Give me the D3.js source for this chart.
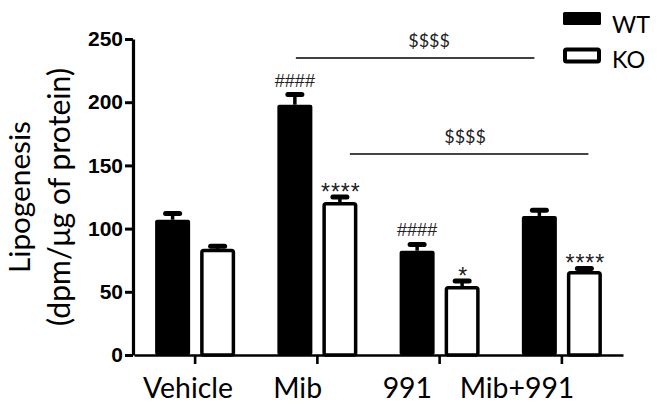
<!DOCTYPE html>
<html><head><meta charset="utf-8">
<script src="https://cdn.jsdelivr.net/npm/d3@7"></script>
<style>body{margin:0;background:#fff} svg{display:block}</style>
</head><body><svg id="c" width="657" height="405"></svg>
<script>
const categories = ["Vehicle", "Mib", "991", "Mib+991"];
const series = ["WT", "KO"];
const wtValues = [107, 198, 82.5, 110];
const wtErrors = [5, 8, 5, 4.5];
const koValues = [84, 121, 54.5, 66.5];
const koErrors = [2, 4, 4, 2];
const wtMarks = ["", "####", "####", ""];
const koMarks = ["", "****", "*", "****"];
const yTicks = [0, 50, 100, 150, 200, 250];
const bracketSeries = ["WT", "KO"];
const bracketFrom = ["Mib", "Mib"];
const bracketTo = ["Mib+991", "Mib+991"];
const bracketLevels = [235, 159];
const bracketLabels = ["$$$$", "$$$$"];
const yTitle = ["Lipogenesis", "(dpm/\u03bcg of protein)"];

const svg = d3.select("#c");
const calibri = "Lato, 'Noto Sans', sans-serif";
const arial = "'Liberation Sans', Arial, sans-serif";

const y = d3.scaleLinear().domain([0, 250]).range([355, 39]);
const x0 = d3.scaleBand().domain(categories).range([134, 623]);
const x1 = d3.scaleBand().domain(series).range([0, x0.bandwidth()]).paddingInner(0.2222).paddingOuter(0.469);
const xLabel = d3.scalePoint().domain(categories).range([188, 517]);

function fit(sel, w) {
  const len = sel.node().getComputedTextLength();
  const fs = parseFloat(sel.attr("font-size"));
  sel.attr("font-size", fs * w / len);
}

// Y axis
const yAxis = svg.append("g").attr("transform", "translate(133,0)")
  .call(d3.axisLeft(y).tickValues(yTicks).tickSize(8).tickSizeOuter(0).tickPadding(2));
yAxis.select(".domain").attr("stroke", "#000").attr("stroke-width", 3.2);
yAxis.selectAll(".tick line").attr("stroke", "#000").attr("stroke-width", 3);
yAxis.selectAll(".tick text").attr("font-family", arial).attr("font-weight", "bold")
  .attr("font-size", 21).attr("fill", "#000");

// X axis
const xAxis = svg.append("g").attr("transform", "translate(0,355)")
  .call(d3.axisBottom(x0).tickSize(9).tickSizeOuter(0).tickFormat(""));
xAxis.select(".domain").attr("stroke", "#000").attr("stroke-width", 2.6);
xAxis.selectAll(".tick line").attr("stroke", "#000").attr("stroke-width", 2.6);

// X labels
const xl = svg.append("g").selectAll("text").data(categories).join("text")
  .attr("x", d => xLabel(d)).attr("y", 398).attr("text-anchor", "middle")
  .attr("font-family", calibri).attr("font-size", 28).attr("fill", "#000").text(d => d);
{
  const len = xl.filter(d => d === "Vehicle").node().getComputedTextLength();
  xl.attr("font-size", 28 * 90 / len);
}

// Y title
const titleG = svg.append("g");
[30, 70].forEach((bx, i) => {
  const t = titleG.append("text")
    .attr("transform", `translate(${bx},197) rotate(-90)`)
    .attr("text-anchor", "middle").attr("font-family", calibri).attr("font-size", 30)
    .attr("fill", "#000").text(yTitle[i]);
  fit(t, i === 0 ? 152 : 258);
});

// Bars
const sw = 3.5;
const groups = svg.append("g").selectAll("g").data(categories).join("g")
  .attr("transform", d => `translate(${x0(d)},0)`);
groups.append("rect")
  .attr("x", x1("WT")).attr("width", x1.bandwidth())
  .attr("y", (d, i) => y(wtValues[i])).attr("height", (d, i) => y(0) - y(wtValues[i]))
  .attr("rx", 2).attr("fill", "#000");
groups.append("rect")
  .attr("x", x1("KO") + sw / 2).attr("width", x1.bandwidth() - sw)
  .attr("y", (d, i) => y(koValues[i]) + sw / 2).attr("height", (d, i) => y(0) - y(koValues[i]) - sw / 2)
  .attr("rx", 2).attr("fill", "#fff").attr("stroke", "#000").attr("stroke-width", sw);

// Error bars
function errBars(key, vals, errs) {
  const cx = x1(key) + x1.bandwidth() / 2;
  groups.append("line").attr("x1", cx).attr("x2", cx)
    .attr("y1", (d, i) => y(vals[i])).attr("y2", (d, i) => y(vals[i] + errs[i]))
    .attr("stroke", "#000").attr("stroke-width", 3.5);
  groups.append("line").attr("x1", cx - 7).attr("x2", cx + 7)
    .attr("y1", (d, i) => y(vals[i] + errs[i])).attr("y2", (d, i) => y(vals[i] + errs[i]))
    .attr("stroke", "#000").attr("stroke-width", 5).attr("stroke-linecap", "round");
}
errBars("WT", wtValues, wtErrors);
errBars("KO", koValues, koErrors);

// Significance marks
groups.append("text")
  .attr("x", x1("WT") + x1.bandwidth() / 2)
  .attr("y", (d, i) => y(wtValues[i] + wtErrors[i]) - 8)
  .attr("text-anchor", "middle").attr("font-family", arial).attr("font-size", 18)
  .attr("fill", "#222").text((d, i) => wtMarks[i]);
groups.append("text")
  .attr("x", x1("KO") + x1.bandwidth() / 2 + 1)
  .attr("y", (d, i) => y(koValues[i] + koErrors[i]) + 3)
  .attr("text-anchor", "middle").attr("font-family", arial).attr("font-size", 23)
  .attr("letter-spacing", 1).attr("fill", "#222").text((d, i) => koMarks[i]);

// Brackets
bracketLevels.forEach((lv, i) => {
  const k = bracketSeries[i];
  const xa = x0(bracketFrom[i]) + x1(k) + x1.bandwidth() / 2 + (i === 0 ? 1 : 10);
  const xb = x0(bracketTo[i]) + x1(k) + x1.bandwidth() / 2 + (i === 0 ? -5 : 4);
  svg.append("line").attr("x1", xa).attr("x2", xb).attr("y1", y(lv)).attr("y2", y(lv))
    .attr("stroke", i === 0 ? "#000" : "#444").attr("stroke-width", i === 0 ? 1.6 : 2);
  svg.append("text").attr("x", (xa + xb) / 2 + (i === 0 ? 14 : -4)).attr("y", y(lv) - 11)
    .attr("text-anchor", "middle").attr("font-family", calibri).attr("font-size", 18)
    .attr("fill", "#222").text(bracketLabels[i]);
});

// Legend
const leg = svg.append("g");
leg.append("rect").attr("x", 563).attr("y", 12).attr("width", 38).attr("height", 13).attr("rx", 1.5).attr("fill", "#000");
leg.append("rect").attr("x", 565).attr("y", 49.5).attr("width", 34).attr("height", 12).attr("rx", 1.5)
  .attr("fill", "#fff").attr("stroke", "#000").attr("stroke-width", 4);
series.forEach((s, i) => {
  const t = leg.append("text").attr("x", 612).attr("y", i === 0 ? 33 : 68)
    .attr("font-family", calibri).attr("font-size", 26).attr("fill", "#000").text(s);
  if (i === 0) fit(t, 38);
});
leg.selectAll("text").attr("font-size", leg.select("text").attr("font-size"));
</script>
</body></html>
